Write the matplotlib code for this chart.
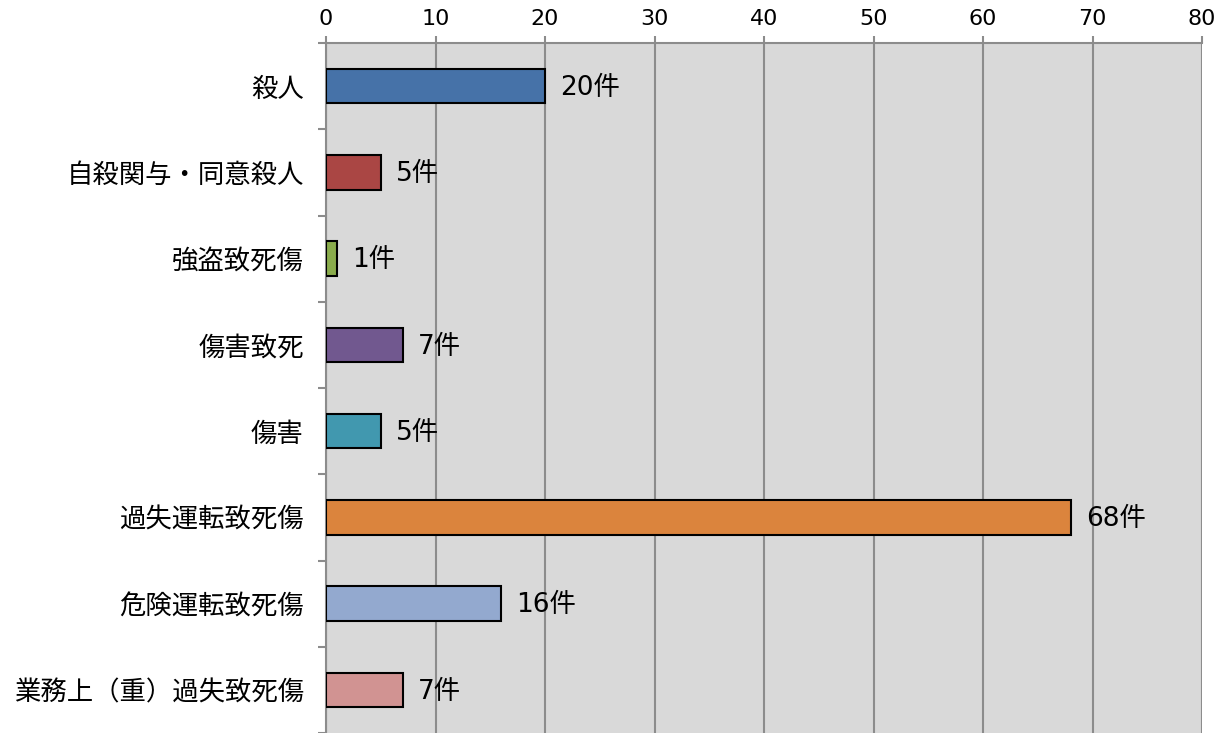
import matplotlib.pyplot as plt
import numpy as np

plt.rcParams['font.family'] = ['Noto Sans CJK JP', 'DejaVu Sans']

categories = ["殺人", "自殺関与・同意殺人", "強盗致死傷", "傷害致死", "傷害",
              "過失運転致死傷", "危険運転致死傷", "業務上（重）過失致死傷"]
counts = [20, 5, 1, 7, 5, 68, 16, 7]
colors = ["#4672a8", "#aa4644", "#8aac4c", "#71588f", "#4198af",
          "#db843d", "#93a9cf", "#d19392"]
xticks = [0, 10, 20, 30, 40, 50, 60, 70, 80]

fig = plt.figure(figsize=(12.28, 7.33), dpi=100)
ax = fig.add_axes([326 / 1228, 0, (1202 - 326) / 1228, (733 - 43) / 733])

y = np.arange(len(categories))
ax.barh(y, counts, height=0.4, color=colors, edgecolor="black", linewidth=1.5, zorder=3)

for yi, v in zip(y, counts):
    ax.text(v + 1.4, yi + 0.02, f"{v}件", va="center", ha="left", fontsize=19,
            family=["DejaVu Sans", "Noto Sans CJK JP"], zorder=4)

ax.set_facecolor("#d9d9d9")
ax.set_xlim(0, 80)
ax.set_ylim(len(categories) - 0.5, -0.5)

ax.xaxis.tick_top()
ax.set_xticks(xticks)
ax.set_xticklabels([str(t) for t in xticks], family="DejaVu Sans")
ax.tick_params(axis="x", length=5, width=1.5, color="#8c8c8c", labelsize=16, pad=5)
ax.grid(axis="x", color="#8c8c8c", linewidth=1.5, zorder=1)

ax.set_yticks(y)
ax.set_yticklabels(categories)
ax.set_yticks(np.arange(len(categories) + 1) - 0.5, minor=True)
ax.tick_params(axis="y", which="major", length=0, labelsize=19, pad=16)
ax.tick_params(axis="y", which="minor", length=6, width=1.5, color="#8c8c8c")

for s in ["bottom", "right"]:
    ax.spines[s].set_visible(False)
for s in ["top", "left"]:
    ax.spines[s].set_color("#8c8c8c")
    ax.spines[s].set_linewidth(1.5)

fig.savefig("out.png", dpi=100)
